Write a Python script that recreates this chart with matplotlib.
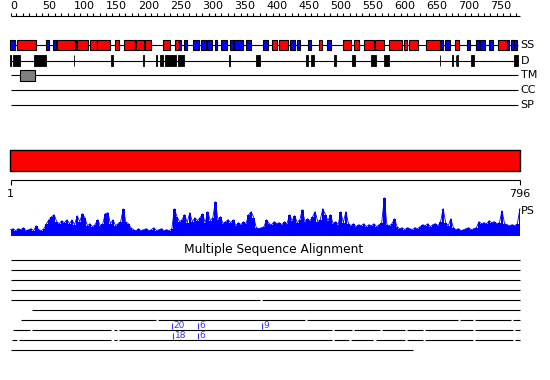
import matplotlib
matplotlib.use("Agg")
import matplotlib.pyplot as plt
import numpy as np

SEQ_LEN = 796

# secondary structure (start, end) in residues
helix = [(11, 40), (74, 101), (105, 122), (126, 135), (136, 156), (165, 169),
         (178, 194), (197, 208), (212, 220), (239, 249), (258, 263), (409, 416),
         (421, 433), (483, 486), (520, 532), (537, 545), (553, 567), (570, 584),
         (592, 612), (615, 619), (624, 637), (650, 671), (695, 700), (762, 775)]
strand = [(1, 8), (57, 61), (67, 71), (103, 104), (264, 266), (272, 276),
          (286, 294), (299, 305), (308, 315), (320, 323), (330, 338), (344, 347),
          (350, 364), (369, 375), (395, 402), (438, 444), (448, 452), (466, 469),
          (495, 500), (673, 675), (679, 687), (714, 717), (728, 732), (734, 741),
          (749, 753), (776, 779), (782, 786), (788, 791)]

# disordered regions
disorder = [(1, 1), (5, 15), (38, 56), (100, 100), (158, 160), (208, 208),
            (228, 229), (234, 239), (243, 258), (263, 271), (343, 343),
            (385, 389), (462, 465), (471, 474), (506, 508), (534, 538),
            (564, 571), (585, 591), (671, 671), (691, 691), (696, 696),
            (699, 699), (720, 724), (788, 789), (791, 792)]

# transmembrane
tm = [(16, 38)]

# PS profile (one value every ~4 residues)
ps_values = [
    6, 7, 5, 7, 6, 8, 5, 6, 7, 5, 10, 6, 5, 7, 12, 16, 19, 21, 14, 12,
    15, 13, 16, 12, 16, 11, 20, 14, 22, 18, 10, 12, 9, 11, 16, 10, 12, 22, 23, 12,
    16, 10, 12, 14, 27, 14, 12, 8, 6, 5, 7, 5, 6, 7, 5, 6, 8, 5, 6, 7,
    5, 6, 5, 7, 27, 19, 14, 16, 21, 13, 23, 14, 18, 15, 18, 22, 13, 24, 15, 18,
    34, 16, 19, 12, 14, 16, 13, 16, 10, 13, 11, 14, 12, 21, 24, 18, 8, 7, 8, 9,
    16, 12, 11, 14, 12, 13, 11, 14, 12, 21, 15, 20, 13, 16, 26, 14, 17, 15, 19, 24,
    14, 16, 27, 21, 15, 21, 12, 14, 11, 24, 13, 24, 12, 10, 12, 9, 11, 10, 12, 9,
    11, 10, 12, 9, 11, 13, 38, 11, 10, 12, 17, 9, 7, 8, 6, 8, 7, 6, 8, 7,
    9, 11, 10, 12, 9, 11, 12, 10, 14, 27, 13, 10, 17, 8, 6, 7, 5, 6, 7, 8,
    6, 7, 8, 14, 12, 13, 12, 15, 13, 14, 12, 13, 25, 12, 11, 10, 11, 10, 12, 27,
]

# multiple sequence alignment rows: (start, end, gap positions)
aln_start = [1, 1, 1, 1, 1, 34, 17, 4, 3, 1]
aln_end = [796, 796, 796, 796, 796, 796, 796, 796, 796, 629]
aln_gaps = [[], [], [], [], [392], [],
            [230, 462, 701, 725, 784],
            [33, 160, 169, 504, 535, 579, 618, 647, 725, 787],
            [12, 160, 169, 504, 531, 569, 618, 647, 725, 787],
            []]

# insertion markers: (row, residue, label)
ins_row = [7, 7, 7, 8, 8]
ins_pos = [253, 294, 394, 255, 294]
ins_label = ["20", "6", "9", "18", "6"]

PX = 0.6406  # pixels per residue
FONT = dict(family="DejaVu Sans", fontsize=8)


def boxes(ax, regions, y, h, color, lw=0.8):
    ax.broken_barh([(s - 0.5, e - s + 1) for s, e in regions], (y - h / 2, h),
                   facecolors=color, edgecolors="black", linewidth=lw, zorder=3)


fig = plt.figure(figsize=(5.5, 3.8), dpi=100)
ax = fig.add_axes([0, 0, 1, 1])
ax.set_xlim(-10 / PX, 540 / PX)
ax.set_ylim(380, 0)
ax.axis("off")

# top ruler
ax.hlines(16, 1, SEQ_LEN, color="black", linewidth=0.8)
for t in range(0, SEQ_LEN, 10):
    ax.vlines(t if t else 1, 13, 16, color="black", linewidth=0.8)
for t in range(0, SEQ_LEN, 50):
    ax.text(t, 11, str(t), ha="left", va="bottom", **FONT)

# feature rows
rows = {"SS": 45, "D": 60.5, "TM": 75, "CC": 90, "SP": 105}
for name, y in rows.items():
    ax.hlines(y, 1, SEQ_LEN - 3, color="black", linewidth=0.8, zorder=1)
    ax.text(SEQ_LEN + 1, y, name, ha="left", va="center", **FONT)
ax.vlines(1, 55, 66, color="black", linewidth=0.8)
boxes(ax, helix, rows["SS"], 10, "#ff0000")
boxes(ax, strand, rows["SS"], 10, "#0000ff")
boxes(ax, disorder, rows["D"], 11, "black", lw=0.6)
boxes(ax, tm, rows["TM"], 11, "#808080")

# full-length domain bar
boxes(ax, [(1, SEQ_LEN)], 160.5, 20.5, "#ff0000", lw=1.0)

# lower ruler
ax.hlines(180, 1, SEQ_LEN, color="black", linewidth=0.8)
ax.vlines([1, SEQ_LEN], 180, 184.5, color="black", linewidth=0.8)
ax.text(1, 189, "1", ha="center", va="top", **FONT)
ax.text(SEQ_LEN, 189, str(SEQ_LEN), ha="center", va="top", **FONT)

# PS profile
base = 235.7
ps_pos = np.linspace(1, SEQ_LEN, len(ps_values))
ax.fill_between(ps_pos, base, base - np.array(ps_values), color="#0000ff",
                linewidth=0, step="mid")
ax.plot(ps_pos, base - np.array(ps_values), color="#0000ff", linewidth=0.6)
ax.text(SEQ_LEN + 2, 211, "PS", ha="left", va="center", **FONT)

# multiple sequence alignment
ax.text(412, 250, "Multiple Sequence Alignment", ha="center", va="center",
        family="DejaVu Sans", fontsize=8.8)
for i, (s, e, gaps) in enumerate(zip(aln_start, aln_end, aln_gaps)):
    y = 260 + 10 * i
    edges = [s] + [v for g in gaps for v in (g - 1.6, g + 1.6)] + [e]
    for a, b in zip(edges[::2], edges[1::2]):
        ax.hlines(y, a, b, color="black", linewidth=0.8)
for r, p, lab in zip(ins_row, ins_pos, ins_label):
    y = 260 + 10 * r
    ax.vlines(p, y - 7.5, y - 1, color="#3333ff", linewidth=0.8)
    ax.text(p + 2.2, y - 4.2, lab, ha="left", va="center", color="#3333ff",
            family="DejaVu Sans", fontsize=6.5)

fig.savefig("out.png", dpi=100)
